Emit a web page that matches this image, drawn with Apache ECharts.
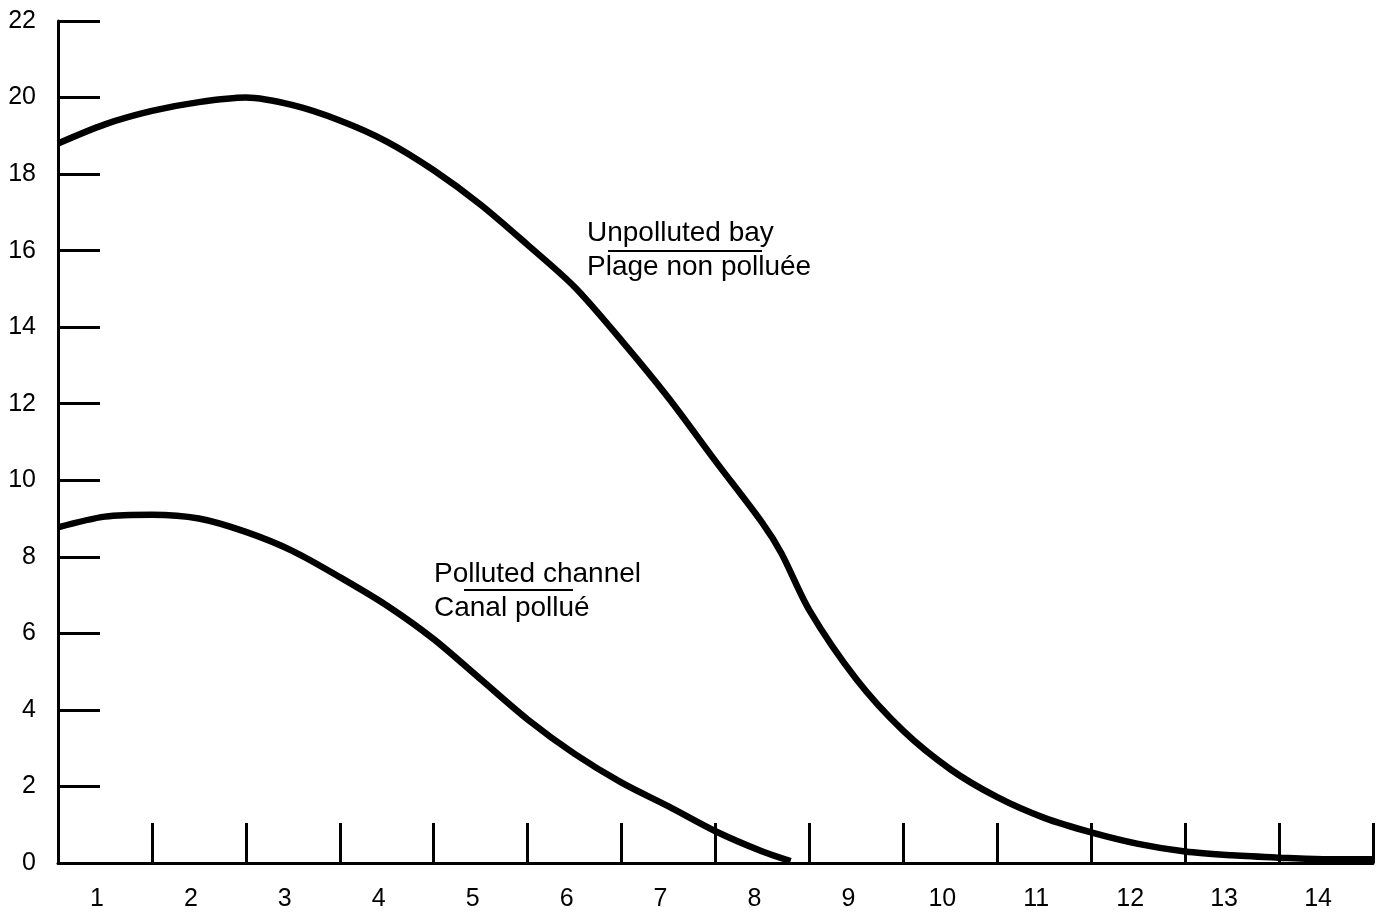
<!DOCTYPE html>
<html>
<head>
<meta charset="utf-8">
<script src="https://cdn.jsdelivr.net/npm/echarts@6/dist/echarts.min.js"></script>
<style>
html,body{margin:0;padding:0;background:#fff;}
#chart{width:1383px;height:913px;}
</style>
</head>
<body>
<div id="chart"></div>
<script>
// Categories on the x axis (labels sit at band centres)
const categories = ['1','2','3','4','5','6','7','8','9','10','11','12','13','14'];
// y axis range
const yMin = 0, yMax = 22, yInterval = 2;

// Unpolluted bay / Plage non polluée
const unpollutedX = [0.5, 1.0, 1.5, 2.0, 2.5, 3.0, 3.5, 4.0, 4.5, 5.0, 5.5, 6.0, 6.5, 7.0, 7.5, 8.0, 8.2, 8.5, 9.0, 9.5, 10.0, 10.5, 11.0, 11.5, 12.0, 12.5, 13.0, 13.5, 14.0, 14.5];
const unpollutedY = [18.8, 19.3, 19.65, 19.88, 20.0, 19.8, 19.4, 18.85, 18.1, 17.2, 16.15, 15.05, 13.65, 12.15, 10.5, 8.88, 8.1, 6.6, 4.8, 3.45, 2.45, 1.72, 1.18, 0.8, 0.5, 0.3, 0.2, 0.14, 0.1, 0.1];

// Polluted channel / Canal pollué
const pollutedX = [0.5, 1.0, 1.5, 2.0, 2.5, 3.0, 3.5, 4.0, 4.5, 5.0, 5.5, 6.0, 6.5, 7.0, 7.5, 8.0, 8.3];
const pollutedY = [8.77, 9.05, 9.1, 9.0, 8.65, 8.15, 7.47, 6.73, 5.85, 4.8, 3.75, 2.85, 2.1, 1.48, 0.83, 0.3, 0.05];

const FONT = '"Liberation Sans", Arial, Helvetica, sans-serif';
const INK = '#000';

const chart = echarts.init(document.getElementById('chart'));
chart.setOption({
  animation: false,
  backgroundColor: '#fff',
  grid: { left: 58, right: 10, top: 21, bottom: 50, containLabel: false },
  xAxis: [
    {
      type: 'category',
      data: categories,
      boundaryGap: true,
      axisLine: { show: true, lineStyle: { color: INK, width: 3 } },
      axisTick: { show: true, inside: true, length: 40, lineStyle: { color: INK, width: 3 } },
      axisLabel: { color: INK, fontSize: 25, fontFamily: FONT, margin: 24, padding: [0, 16, 0, 0] },
      splitLine: { show: false }
    },
    {
      type: 'value',
      min: 0.5,
      max: 14.5,
      show: false
    }
  ],
  yAxis: {
    type: 'value',
    min: yMin,
    max: yMax,
    interval: yInterval,
    axisLine: { show: true, lineStyle: { color: INK, width: 3 } },
    axisTick: { show: true, inside: true, length: 42, lineStyle: { color: INK, width: 3 } },
    axisLabel: { color: INK, fontSize: 25, fontFamily: FONT, margin: 22 },
    splitLine: { show: false }
  },
  series: [
    {
      name: 'Unpolluted bay',
      type: 'line',
      xAxisIndex: 1,
      data: unpollutedX.map((x, i) => [x, unpollutedY[i]]),
      smooth: 0.3,
      showSymbol: false,
      lineStyle: { color: INK, width: 6.5 }
    },
    {
      name: 'Polluted channel',
      type: 'line',
      xAxisIndex: 1,
      data: pollutedX.map((x, i) => [x, pollutedY[i]]),
      smooth: 0.3,
      showSymbol: false,
      lineStyle: { color: INK, width: 6.5 }
    }
  ],
  graphic: [
    { type: 'text', x: 587, y: 233, style: { text: 'Unpolluted bay', font: '28px ' + FONT, fill: INK, verticalAlign: 'middle' } },
    { type: 'line', shape: { x1: 608, y1: 251, x2: 762, y2: 251 }, style: { stroke: INK, lineWidth: 2 } },
    { type: 'text', x: 587, y: 267, style: { text: 'Plage non polluée', font: '28px ' + FONT, fill: INK, verticalAlign: 'middle' } },
    { type: 'text', x: 434, y: 574, style: { text: 'Polluted channel', font: '28px ' + FONT, fill: INK, verticalAlign: 'middle' } },
    { type: 'line', shape: { x1: 464, y1: 590, x2: 573, y2: 590 }, style: { stroke: INK, lineWidth: 2 } },
    { type: 'text', x: 434, y: 608, style: { text: 'Canal pollué', font: '28px ' + FONT, fill: INK, verticalAlign: 'middle' } }
  ]
});
</script>
</body>
</html>
